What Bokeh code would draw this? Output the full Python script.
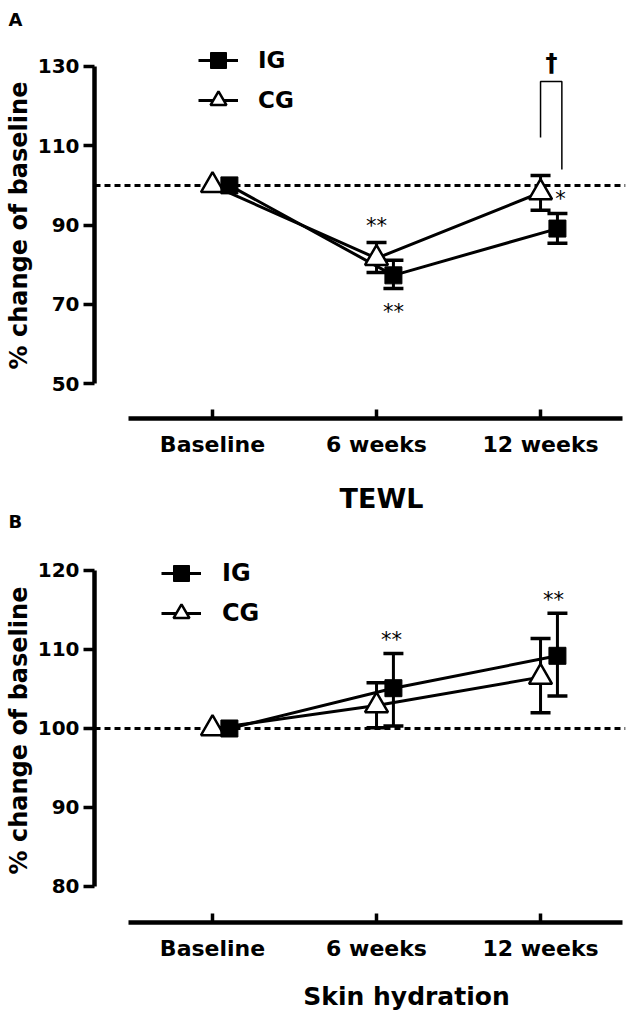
from bokeh.plotting import figure
from bokeh.models import (Range1d, LinearAxis, FixedTicker, Span, Whisker, TeeHead,
                          ColumnDataSource, Legend, LegendItem)
from bokeh.layouts import column
from bokeh.embed import file_html
from bokeh.resources import INLINE
from bokeh.core.properties import value

# ---------------- data ----------------
categories = ["Baseline", "6 weeks", "12 weeks"]
groups = ["IG", "CG"]

# Panel A: TEWL (% change of baseline), mean and error-bar ends
tewl_ig_mean = [100, 77.3, 89.1]
tewl_ig_lower = [100, 74.0, 85.4]
tewl_ig_upper = [100, 81.1, 92.9]
tewl_cg_mean = [100, 81.6, 98.2]
tewl_cg_lower = [100, 78.0, 93.7]
tewl_cg_upper = [100, 85.6, 102.5]
tewl_yticks = [50, 70, 90, 110, 130]

# Panel B: Skin hydration (% change of baseline)
hyd_ig_mean = [100, 105.1, 109.2]
hyd_ig_lower = [100, 100.3, 104.1]
hyd_ig_upper = [100, 109.5, 114.6]
hyd_cg_mean = [100, 102.9, 106.5]
hyd_cg_lower = [100, 100.1, 102.0]
hyd_cg_upper = [100, 105.8, 111.4]
hyd_yticks = [80, 90, 100, 110, 120]

FONT = "DejaVu Sans"
W = 626
LEFT = 94
X0, X1 = -0.7195, 2.518
PX = (W - LEFT - 1) / (X1 - X0)          # pixels per category step
IG_DODGE = 0.103
xs = list(range(len(categories)))
ig_x = [x + IG_DODGE for x in xs]


def base_fig(height, yr, border_bottom):
    p = figure(width=W, height=height, x_range=Range1d(X0, X1), y_range=yr,
               output_backend="svg", toolbar_location=None,
               x_axis_type=None, y_axis_type=None,
               min_border_left=LEFT, min_border_right=1,
               min_border_top=0, min_border_bottom=border_bottom)
    p.frame_align = False
    p.outline_line_color = None
    p.background_fill_color = "white"
    p.border_fill_color = "white"
    return p


def strip(height):
    """A text-only strip sharing the plots' horizontal mapping."""
    s = figure(width=W, height=height,
               x_range=Range1d(X0 - LEFT / PX, X1 + 1 / PX), y_range=Range1d(height, 0),
               output_backend="svg", toolbar_location=None,
               x_axis_type=None, y_axis_type=None,
               min_border_left=0, min_border_right=0, min_border_top=0, min_border_bottom=0)
    s.frame_align = False
    s.outline_line_color = None
    s.background_fill_color = "white"
    s.border_fill_color = "white"
    return s


def add_axes(p, yticks, ylabel):
    yaxis = LinearAxis(ticker=FixedTicker(ticks=yticks), bounds=(yticks[0], yticks[-1]),
                       axis_label=ylabel,
                       axis_line_width=4.5, axis_line_color="black",
                       major_tick_line_width=3.5, major_tick_out=11, major_tick_in=0,
                       minor_tick_out=0, minor_tick_in=0,
                       major_label_standoff=4, axis_label_standoff=2,
                       axis_label_text_font=FONT, axis_label_text_font_style="bold",
                       axis_label_text_font_size="24px", axis_label_text_color="black",
                       major_label_text_font=FONT, major_label_text_font_style="bold",
                       major_label_text_font_size="20px", major_label_text_color="black")
    p.add_layout(yaxis, "left")
    xaxis = LinearAxis(ticker=FixedTicker(ticks=xs), bounds=(-0.51, 2.5),
                       major_label_overrides={i: c for i, c in enumerate(categories)},
                       axis_line_width=4.5, axis_line_color="black",
                       major_tick_line_width=3.5, major_tick_in=9, major_tick_out=0,
                       minor_tick_out=0, minor_tick_in=0,
                       major_label_standoff=13,
                       major_label_text_font=FONT, major_label_text_font_style="bold",
                       major_label_text_font_size="22px", major_label_text_color="black")
    p.add_layout(xaxis, "below")


def add_series(p, ig_m, ig_lo, ig_hi, cg_m, cg_lo, cg_hi):
    p.add_layout(Span(location=100, dimension="width", line_color="black",
                      line_width=3, line_dash="6 4", level="underlay"))
    cg_line = p.line(xs, cg_m, line_color="black", line_width=3)
    ig_line = p.line(ig_x, ig_m, line_color="black", line_width=3)
    for bx, lo, hi in ((xs, cg_lo, cg_hi), (ig_x, ig_lo, ig_hi)):
        keep = [i for i in range(len(bx)) if hi[i] > lo[i]]
        src = ColumnDataSource(dict(x=[bx[i] for i in keep],
                                    lower=[lo[i] for i in keep],
                                    upper=[hi[i] for i in keep]))
        p.add_layout(Whisker(source=src, base="x", lower="lower", upper="upper",
                             dimension="height", line_color="black", line_width=3,
                             upper_head=TeeHead(size=20, line_width=3.5, line_color="black"),
                             lower_head=TeeHead(size=20, line_width=3.5, line_color="black")))
    cg_sc = p.scatter(xs, cg_m, marker="triangle", size=23, fill_color="white",
                      line_color="black", line_width=2.5)
    ig_sc = p.scatter(ig_x, ig_m, marker="square", size=17, fill_color="black",
                      line_color="black", line_width=1)
    return (ig_line, ig_sc), (cg_line, cg_sc)


def add_legend(p, ig_r, cg_r, loc, fs, standoff):
    leg = Legend(items=[LegendItem(label=groups[0], renderers=list(ig_r)),
                        LegendItem(label=groups[1], renderers=list(cg_r))],
                 location=loc, glyph_width=40, glyph_height=40, label_height=40,
                 spacing=0, padding=0, margin=0, label_standoff=standoff,
                 label_text_font=FONT, label_text_font_style="bold",
                 label_text_font_size=fs, label_text_color="black",
                 border_line_color=None, background_fill_alpha=0)
    p.add_layout(leg)


def put_text(s, x, y, txt, size, align="left"):
    s.text(x=[x], y=[y], text=[txt], text_font=value(FONT), text_font_style="bold",
           text_font_size=size, text_color="black", text_align=align,
           text_baseline="middle")


LETTER_X = X0 - (LEFT - 8) / PX

# ---------------- top strip: panel letter A ----------------
s1 = strip(32)
put_text(s1, LETTER_X, 18.5, "A", "18px")

# ---------------- Panel A ----------------
pA = base_fig(438, Range1d(41.17, 138.58), 52)
add_axes(pA, tewl_yticks, "% change of baseline")
igA, cgA = add_series(pA, tewl_ig_mean, tewl_ig_lower, tewl_ig_upper,
                      tewl_cg_mean, tewl_cg_lower, tewl_cg_upper)
add_legend(pA, igA, cgA, (104, 298), "23px", 20)

pA.text(x=[xs[1], ig_x[1], xs[2]],
        y=[tewl_cg_upper[1], tewl_ig_lower[1], tewl_cg_mean[2]],
        text=["**", "**", "*"], x_offset=[0, 0, 20], y_offset=[-16, 24, 6],
        text_font=value(FONT), text_font_size="21px", text_color="black",
        text_align="center", text_baseline="middle")
# significance bracket between groups at 12 weeks
pA.line([xs[2], xs[2], xs[2] + 0.13, xs[2] + 0.13], [112.1, 126.2, 126.2, 104.0],
        line_color="black", line_width=1.5)
pA.text(x=[xs[2] + 0.067], y=[131.0], text=["\u2020"], text_font=value(FONT),
        text_font_style="bold", text_font_size="24px", text_color="black",
        text_align="center", text_baseline="middle")

# ---------------- middle strip: x title of A, letter B ----------------
s2 = strip(68)
put_text(s2, 1.03, 28, "TEWL", "27px", "center")
put_text(s2, LETTER_X, 50.5, "B", "18px")

# ---------------- Panel B ----------------
pB = base_fig(432, Range1d(75.44, 124.05), 48)
add_axes(pB, hyd_yticks, "% change of baseline")
igB, cgB = add_series(pB, hyd_ig_mean, hyd_ig_lower, hyd_ig_upper,
                      hyd_cg_mean, hyd_cg_lower, hyd_cg_upper)
add_legend(pB, igB, cgB, (67, 289), "24px", 21)

pB.text(x=[ig_x[1], ig_x[2]], y=[hyd_ig_upper[1], hyd_ig_upper[2]],
        text=["**", "**"], x_offset=[-2, -4], y_offset=[-13, -13],
        text_font=value(FONT), text_font_size="21px", text_color="black",
        text_align="center", text_baseline="middle")

# ---------------- bottom strip: x title of B ----------------
s3 = strip(47)
put_text(s3, 1.183, 26, "Skin hydration", "25px", "center")

layout = column(s1, pA, s2, pB, s3, spacing=0)
open("out.html", "w").write(file_html(layout, INLINE))
